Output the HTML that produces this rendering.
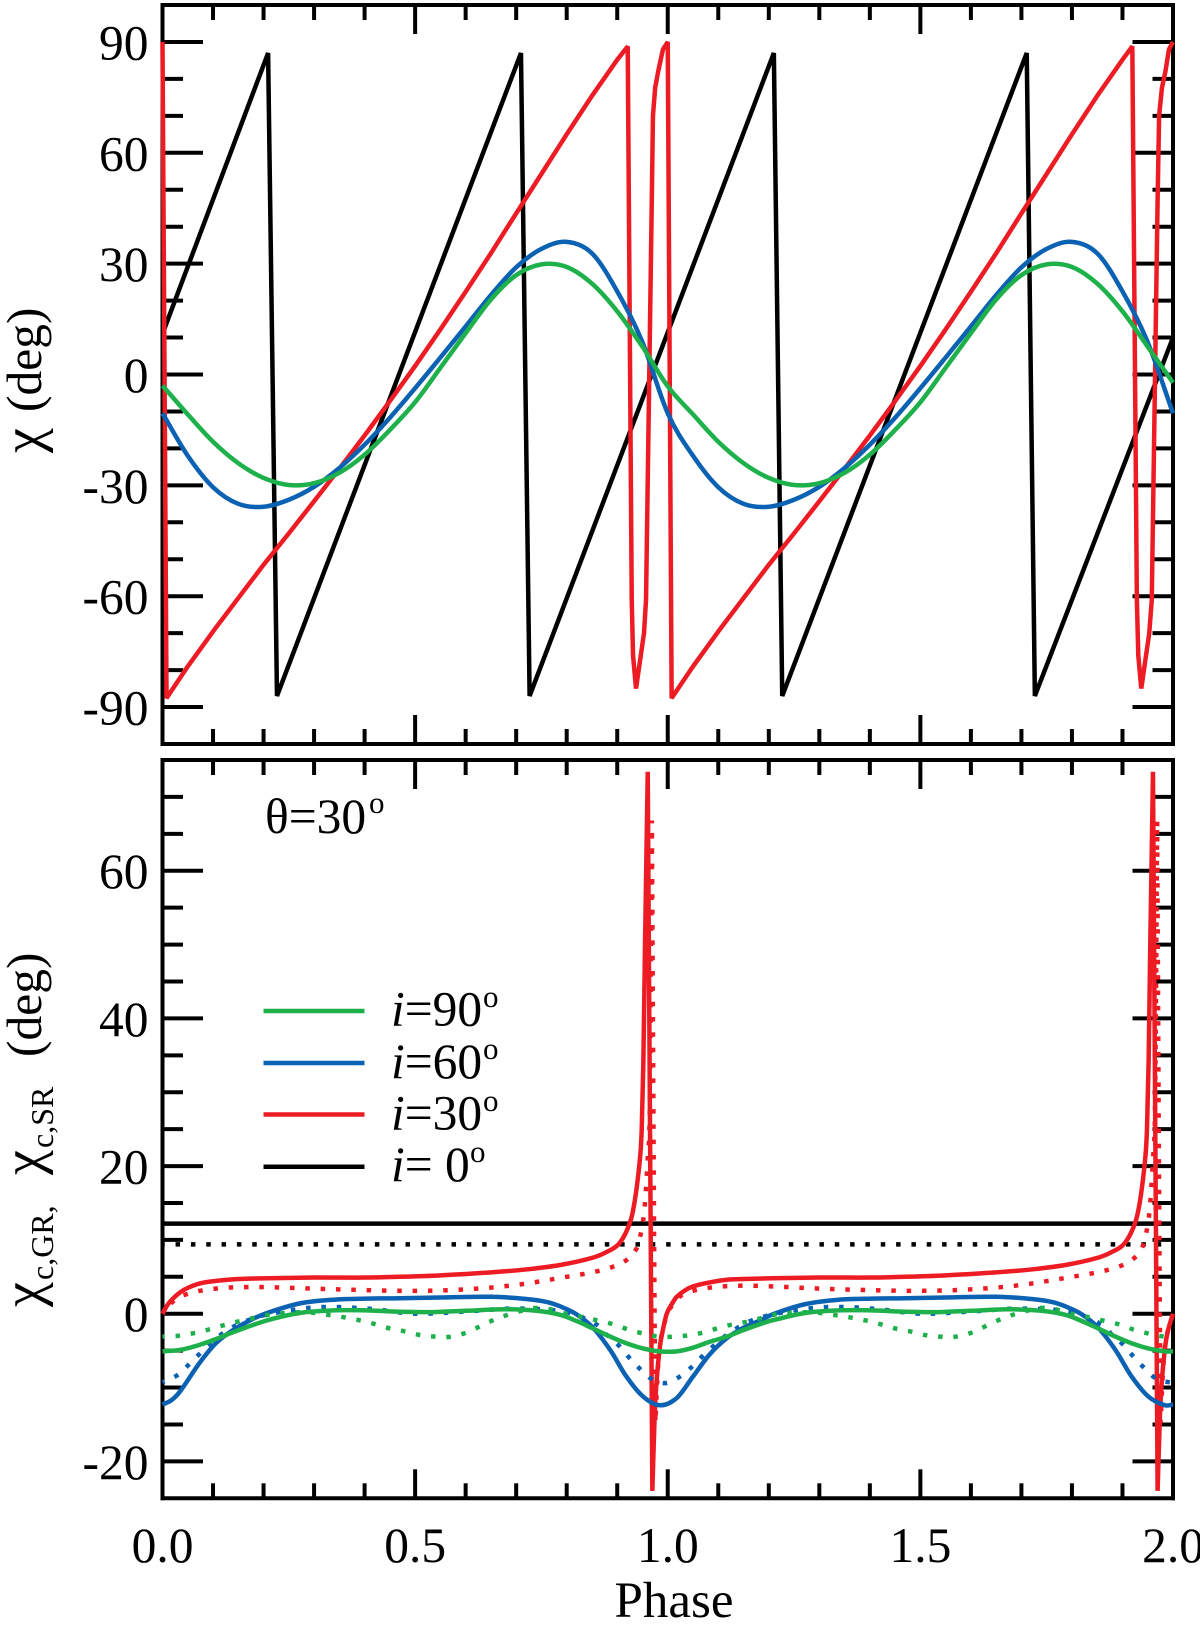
<!DOCTYPE html>
<html lang="en">
<head>
<meta charset="utf-8">
<title>Polarization angle versus phase</title>
<style>
html,body{margin:0;padding:0;background:#fff;}
svg{display:block;}
text{font-family:"Liberation Serif","DejaVu Serif",serif;fill:#000;}
</style>
</head>
<body>
<svg id="chart" xmlns="http://www.w3.org/2000/svg" width="1200" height="1630" viewBox="0 0 1200 1630">
  <g id="axes"></g>
  <g id="series"></g>
  <g id="labels" font-size="49.5"></g>

  <g transform="translate(41,0) rotate(-90)" font-size="49.5">
    <text x="-453" y="0" font-size="56">χ</text>
    <text x="-412" y="0">(deg)</text>
  </g>
  <g transform="translate(41,0) rotate(-90)">
    <text x="-1307" y="0" font-size="56">χ</text>
    <text x="-1280" y="12" font-size="32">c,GR,</text>
    <text x="-1175" y="0" font-size="56">χ</text>
    <text x="-1148" y="12" font-size="32">c,SR</text>
    <text x="-1057" y="0" font-size="49.5">(deg)</text>
  </g>
  <text x="674" y="1617" font-size="51" text-anchor="middle">Phase</text>

  <g font-size="49.5">
    <text x="265" y="833">θ=30</text>
    <text x="369" y="813" font-size="31">o</text>
  </g>

  <g font-size="49.5">
    <g>
      <line x1="263.5" x2="364.5" y1="1011" y2="1011" stroke="#1EB04B" stroke-width="4.5"></line>
      <text x="391" y="1025.7"><tspan font-style="italic">i</tspan>=90</text>
      <text x="483" y="1007" font-size="31">o</text>
    </g>
    <g>
      <line x1="263.5" x2="364.5" y1="1063" y2="1063" stroke="#0B62B3" stroke-width="4.5"></line>
      <text x="391" y="1078"><tspan font-style="italic">i</tspan>=60</text>
      <text x="483" y="1059" font-size="31">o</text>
    </g>
    <g>
      <line x1="263.5" x2="364.5" y1="1114.5" y2="1114.5" stroke="#ED1C24" stroke-width="4.5"></line>
      <text x="391" y="1129.5"><tspan font-style="italic">i</tspan>=30</text>
      <text x="483" y="1111" font-size="31">o</text>
    </g>
    <g>
      <line x1="263.5" x2="364.5" y1="1166.7" y2="1166.7" stroke="#000" stroke-width="4.5"></line>
      <text x="391" y="1181"><tspan font-style="italic">i</tspan>= 0</text>
      <text x="470" y="1162" font-size="31">o</text>
    </g>
  </g>
</svg>

<script>
/* ---------- tick labels ---------- */
const xTickLabels = ["0.0","0.5","1.0","1.5","2.0"];
const xMajorTicks = [0,0.5,1,1.5,2];
const xMinorTicks = [0.1,0.2,0.3,0.4,0.6,0.7,0.8,0.9,1.1,1.2,1.3,1.4,1.6,1.7,1.8,1.9];
const topYMajorTicks = [-90,-60,-30,0,30,60,90];
const topYMinorTicks = [-80,-70,-50,-40,-20,-10,10,20,40,50,70,80];
const bottomYMajorTicks = [-20,0,20,40,60];
const bottomYMinorTicks = [-15,-10,-5,5,10,15,25,30,35,45,50,55,65,70];

/* ---------- top panel: position angle (deg) ---------- */
const topBlackPhase = [0,0.209,0.2266,0.7095,0.7266,1.21,1.2266,1.7105,1.7266,2];
const topBlackChi = [11,87,-87,87,-87,87,-87,87,-87,10];

const topRedPhase = [0,0.008,0.05,0.103,0.15,0.2,0.25,0.3,0.35,0.4,0.45,0.5,0.55,0.6,0.65,0.7,0.75,0.8,0.85,0.9,0.9208,0.9287,0.9313,0.9372,0.953,0.957,0.9684,0.9707,0.975,0.981,0.9905,1,1.0077,1.05,1.103,1.15,1.2,1.25,1.3,1.35,1.4,1.45,1.5,1.55,1.6,1.65,1.7,1.75,1.8,1.85,1.9,1.9195,1.9285,1.9313,1.9372,1.953,1.958,1.9695,1.9725,1.978,1.985,1.992,2];
const topRedChi = [90,-87.6,-79,-69,-60.5,-51.5,-43,-34.3,-25.5,-16.5,-7.2,2.3,12.2,22.4,32.8,43.6,54.3,65,75.4,85.2,88.8,-61,-76,-85,-70,-61,47,70,77.5,82,88,90,-87.6,-79,-69,-60.5,-51.5,-43,-34.3,-25.5,-16.5,-7.2,2.3,12.2,22.4,32.8,43.6,54.3,65,75.4,85.2,88.8,-61,-76,-85,-70,-61,47,70,77.5,82,88,90];

const topGridPhase = [0,0.05,0.1,0.15,0.2,0.25,0.3,0.35,0.4,0.45,0.5,0.55,0.6,0.65,0.7,0.75,0.8,0.85,0.9,0.95,1,1.05,1.1,1.15,1.2,1.25,1.3,1.35,1.4,1.45,1.5,1.55,1.6,1.65,1.7,1.75,1.8,1.85,1.9,1.95,2];
const topBlueChi = [-10.5,-22,-30.5,-35,-35.8,-33.9,-30.4,-25.3,-19,-11.7,-3.7,4.6,13,21.5,29,34,35.9,32.8,22.5,8.7,-10.5,-22,-30.5,-35,-35.8,-33.9,-30.4,-25.3,-19,-11.7,-3.7,4.6,13,21.5,29,34,35.9,32.8,22.5,8.7,-10.5];
const topGreenChi = [-3,-10.8,-18.2,-24,-28,-29.9,-29.4,-26.6,-21.7,-15,-7.5,1.8,11.2,20.3,26.9,29.8,29.1,24.6,17.1,7.5,-3.2,-10.8,-18.2,-24,-28,-29.9,-29.4,-26.6,-21.7,-15,-7.5,1.8,11.2,20.3,26.9,29.8,29.1,24.6,17.1,7.5,-2.2];

/* ---------- bottom panel: correction angle (deg), solid = GR, dotted = SR ---------- */
const bottomBlackPhase = [0,2];
const bottomBlackSolid = [12.2,12.2];
const bottomBlackDotted = [9.4,9.4];

const redSolidBreaks = [0.9604,0.9695,1.9604,1.9695];
const redSolidPhase = [0,0.01,0.02,0.035,0.05,0.074,0.1,0.15,0.207,0.3,0.4,0.47,0.55,0.65,0.72,0.787,0.852,0.88,0.905,0.925,0.935,0.945,0.9485,0.9517,0.955,0.9604,0.9695,0.974,0.978,0.9846,0.99,0.998,1.008,1.018,1.035,1.05,1.08,1.117,1.15,1.207,1.3,1.4,1.47,1.55,1.65,1.72,1.787,1.852,1.88,1.905,1.925,1.935,1.945,1.9485,1.9517,1.955,1.9604,1.9695,1.974,1.978,1.9846,1.99,2];
const redSolidChi = [0,1.2,2,2.9,3.5,4.1,4.4,4.7,4.8,4.9,4.9,5,5.2,5.6,6,6.6,7.6,8.4,9.6,12.3,15.4,21,25,34,50,73.4,-24,-14,-9,-4.4,-2.3,0,1.3,2.3,3.2,3.7,4.2,4.6,4.7,4.8,4.9,4.9,5,5.2,5.6,6,6.6,7.6,8.4,9.6,12.3,15.4,21,25,34,50,73.4,-24,-14,-9,-4.4,-2.3,0];

const redDottedBreaks = [0.9686,0.9755,1.9686,1.9755];
const redDottedPhase = [0,0.01,0.02,0.035,0.05,0.074,0.12,0.16,0.207,0.3,0.4,0.5,0.6,0.7,0.8,0.85,0.889,0.917,0.938,0.9465,0.9517,0.955,0.957,0.9604,0.9637,0.965,0.9665,0.9686,0.973,0.9755,0.98,0.985,0.992,0.998,1.01,1.025,1.05,1.08,1.11,1.15,1.207,1.3,1.4,1.5,1.6,1.7,1.8,1.85,1.889,1.917,1.938,1.9465,1.9517,1.955,1.957,1.9604,1.9637,1.965,1.9665,1.9686,1.973,1.9755,1.98,1.985,1.992,2];
const redDottedChi = [0,0.9,1.6,2.3,2.7,3.1,3.5,3.6,3.6,3.4,3.2,3.1,3.3,3.9,5,5.6,6.3,7.2,8.8,10.8,12.8,15,17,21,25,32,45,66.8,10,-14.8,-8,-4,-1.8,0,1.2,2.4,3.1,3.5,3.7,3.8,3.7,3.4,3.2,3.1,3.3,3.9,5,5.6,6.3,7.2,8.8,10.8,12.8,15,17,21,25,32,45,66.8,10,-14.8,-8,-4,-1.8,0];

const blueSolidPhase = [0,0.018,0.035,0.074,0.107,0.14,0.173,0.207,0.272,0.338,0.404,0.47,0.55,0.65,0.72,0.76,0.787,0.82,0.852,0.886,0.918,0.951,0.984,1.018,1.05,1.083,1.117,1.15,1.183,1.207,1.272,1.338,1.404,1.47,1.55,1.65,1.72,1.76,1.787,1.82,1.852,1.886,1.918,1.951,1.984,2];
const blueSolidChi = [-12.3,-11.7,-10.5,-6.6,-3.9,-2.2,-0.9,0.1,1.4,1.9,2.05,2.1,2.2,2.3,2,1.6,1,-0.1,-1.9,-4.9,-8.5,-11.2,-12.4,-11.4,-8.5,-5.5,-3.3,-1.9,-0.9,-0.1,1.3,1.9,2.05,2.1,2.2,2.3,2,1.6,1,-0.1,-1.9,-4.9,-8.5,-11.2,-12.4,-12.3];

const blueDottedPhase = [0,0.03,0.052,0.074,0.095,0.118,0.145,0.173,0.207,0.29,0.351,0.42,0.5,0.6,0.7,0.8,0.86,0.88,0.903,0.923,0.944,0.967,0.995,1.022,1.046,1.068,1.09,1.114,1.138,1.163,1.207,1.29,1.351,1.42,1.5,1.6,1.7,1.8,1.86,1.88,1.903,1.923,1.944,1.967,2];
const blueDottedChi = [-9.3,-8.3,-6.9,-5.4,-4,-2.7,-1.6,-0.8,-0.1,0.8,0.9,0.6,0,0.3,0.7,0.2,-1.5,-2.9,-4.3,-5.9,-7.4,-8.8,-9.4,-8.6,-7.3,-5.8,-4.4,-3,-1.9,-1,-0.1,0.8,0.9,0.6,0,0.3,0.7,0.2,-1.5,-2.9,-4.3,-5.9,-7.4,-8.8,-9.4];

const greenSolidPhase = [0,0.035,0.074,0.107,0.14,0.207,0.272,0.338,0.404,0.47,0.536,0.6,0.68,0.74,0.787,0.82,0.852,0.886,0.918,0.951,0.984,1.018,1.05,1.083,1.117,1.15,1.183,1.207,1.272,1.338,1.404,1.47,1.536,1.6,1.68,1.74,1.787,1.82,1.852,1.886,1.918,1.951,1.984,2];
const greenSolidChi = [-5.1,-4.9,-4.2,-3.4,-2.5,-0.9,0.1,0.45,0.45,0.27,0.22,0.4,0.6,0.4,-0.15,-1,-2,-3.1,-4,-4.7,-5.1,-5.1,-4.6,-3.8,-3.1,-2.2,-1.4,-0.9,0.1,0.45,0.45,0.27,0.22,0.4,0.6,0.4,-0.15,-1,-2,-3.1,-4,-4.7,-5.1,-5.1];

const greenDottedPhase = [0,0.03,0.064,0.094,0.124,0.153,0.183,0.213,0.243,0.272,0.302,0.332,0.361,0.391,0.42,0.45,0.48,0.51,0.539,0.56,0.6,0.65,0.7,0.75,0.806,0.836,0.866,0.896,0.924,0.953,0.983,1.014,1.044,1.073,1.102,1.131,1.163,1.213,1.243,1.272,1.302,1.332,1.361,1.391,1.42,1.45,1.48,1.51,1.539,1.56,1.6,1.65,1.7,1.75,1.806,1.836,1.866,1.896,1.924,1.953,1.983,2];
const greenDottedChi = [-3.1,-3,-2.6,-2.1,-1.5,-1,-0.55,-0.1,0.1,0.2,0.1,-0.2,-0.5,-0.9,-1.4,-2,-2.4,-2.9,-3.1,-3.2,-2.6,-1,0.2,0.8,-0.15,-0.5,-1,-1.5,-2.2,-2.7,-3.1,-3.1,-2.9,-2.5,-1.9,-1.4,-1,-0.1,0.1,0.2,0.1,-0.2,-0.5,-0.9,-1.4,-2,-2.4,-2.9,-3.1,-3.2,-2.6,-1,0.2,0.8,-0.15,-0.5,-1,-1.5,-2.2,-2.7,-3.1,-3.1];

/* ---------- axis functions ---------- */
const NS = 'http://www.w3.org/2000/svg';
const AXIS_LEFT = 162.5, AXIS_RIGHT = 1173;
const TOP_PANEL = {top: 5, bottom: 744, min: -100, max: 100};
const BOTTOM_PANEL = {top: 760, bottom: 1498.3, min: -25, max: 75};
const COLORS = {black: '#000000', red: '#ED1C24', blue: '#0B62B3', green: '#1EB04B'};

function xScale(phase) {
  return AXIS_LEFT + (phase / 2) * (AXIS_RIGHT - AXIS_LEFT);
}
function yScale(panel, value) {
  return panel.bottom - (value - panel.min) / (panel.max - panel.min) * (panel.bottom - panel.top);
}
function svgEl(tag, parent) {
  const el = document.createElementNS(NS, tag);
  parent.appendChild(el);
  return el;
}
function tickLine(parent, x1, y1, x2, y2, name, width) {
  const el = svgEl('line', parent);
  el.setAttribute('x1', x1);
  el.setAttribute('y1', y1);
  el.setAttribute('x2', x2);
  el.setAttribute('y2', y2);
  el.setAttribute('stroke', '#000');
  el.setAttribute('stroke-width', width || 4);
  el.setAttribute('stroke-linecap', 'square');
  
  
  return el;
}

/* ---------- axes ---------- */
const axesGroup = document.getElementById('axes');
const labelsGroup = document.getElementById('labels');

function drawPanel(panel, panelName, yMajor, yMinor) {
  const g = svgEl('g', axesGroup);
  
  
  tickLine(g, AXIS_LEFT, panel.top, AXIS_RIGHT, panel.top, panelName + '-top-border');
  tickLine(g, AXIS_LEFT, panel.bottom, AXIS_RIGHT, panel.bottom, panelName + '-bottom-border');
  tickLine(g, AXIS_LEFT, panel.top, AXIS_LEFT, panel.bottom, panelName + '-left-border');
  tickLine(g, AXIS_RIGHT, panel.top, AXIS_RIGHT, panel.bottom, panelName + '-right-border');
  xMajorTicks.slice(1, -1).forEach(function (p) {
    const x = xScale(p);
    tickLine(g, x, panel.top, x, panel.top + 29, panelName + '-x-major-tick-top').setAttribute('stroke-linecap', 'butt');
    tickLine(g, x, panel.bottom, x, panel.bottom - 29, panelName + '-x-major-tick-bottom').setAttribute('stroke-linecap', 'butt');
  });
  xMinorTicks.forEach(function (p) {
    const x = xScale(p);
    tickLine(g, x, panel.top, x, panel.top + 15, panelName + '-x-minor-tick-top').setAttribute('stroke-linecap', 'butt');
    tickLine(g, x, panel.bottom, x, panel.bottom - 15, panelName + '-x-minor-tick-bottom').setAttribute('stroke-linecap', 'butt');
  });
  yMajor.forEach(function (v) {
    const y = yScale(panel, v);
    tickLine(g, AXIS_LEFT, y, AXIS_LEFT + 40.5, y, panelName + '-y-major-tick-left').setAttribute('stroke-linecap', 'butt');
    tickLine(g, AXIS_RIGHT, y, AXIS_RIGHT - 40.5, y, panelName + '-y-major-tick-right').setAttribute('stroke-linecap', 'butt');
    const t = svgEl('text', labelsGroup);
    t.setAttribute('x', 148.5);
    t.setAttribute('y', y + 17.5);
    t.setAttribute('text-anchor', 'end');
    
    
    t.textContent = String(v);
  });
  yMinor.forEach(function (v) {
    const y = yScale(panel, v);
    tickLine(g, AXIS_LEFT, y, AXIS_LEFT + 20.5, y, panelName + '-y-minor-tick-left').setAttribute('stroke-linecap', 'butt');
    tickLine(g, AXIS_RIGHT, y, AXIS_RIGHT - 20.5, y, panelName + '-y-minor-tick-right').setAttribute('stroke-linecap', 'butt');
  });
}
drawPanel(TOP_PANEL, 'top', topYMajorTicks, topYMinorTicks);
drawPanel(BOTTOM_PANEL, 'bottom', bottomYMajorTicks, bottomYMinorTicks);

xMajorTicks.forEach(function (p, i) {
  const t = svgEl('text', labelsGroup);
  t.setAttribute('x', xScale(p));
  t.setAttribute('y', 1562);
  t.setAttribute('text-anchor', 'middle');
  
  
  t.textContent = xTickLabels[i];
});

/* ---------- series ---------- */
const seriesGroup = document.getElementById('series');

function straightPath(panel, phases, values) {
  return phases.map(function (p, i) {
    return (i ? 'L' : 'M') + xScale(p).toFixed(2) + ' ' + yScale(panel, values[i]).toFixed(2);
  }).join(' ');
}
/* Smooth curve through the points; the curve restarts its slope at any phase listed in breaks,
   which keeps the sharp spike corners sharp. */
function smoothPath(panel, phases, values, breaks) {
  const xs = phases.map(xScale);
  const ys = values.map(function (v) { return yScale(panel, v); });
  const n = xs.length;
  const isBreak = phases.map(function (p) { return !!breaks && breaks.indexOf(p) >= 0; });
  function slopeAt(i, side) {
    let a = Math.max(i - 1, 0), b = Math.min(i + 1, n - 1);
    if (isBreak[i]) {
      if (side > 0) { a = i; } else { b = i; }
    }
    return (ys[b] - ys[a]) / (xs[b] - xs[a]);
  }
  let d = 'M' + xs[0].toFixed(2) + ' ' + ys[0].toFixed(2);
  for (let i = 0; i < n - 1; i++) {
    const h = (xs[i + 1] - xs[i]) / 3;
    const straight = isBreak[i] && isBreak[i + 1];
    const m0 = straight ? (ys[i + 1] - ys[i]) / (xs[i + 1] - xs[i]) : slopeAt(i, 1);
    const m1 = straight ? m0 : slopeAt(i + 1, -1);
    d += ' C' + (xs[i] + h).toFixed(2) + ' ' + (ys[i] + m0 * h).toFixed(2) +
         ' ' + (xs[i + 1] - h).toFixed(2) + ' ' + (ys[i + 1] - m1 * h).toFixed(2) +
         ' ' + xs[i + 1].toFixed(2) + ' ' + ys[i + 1].toFixed(2);
  }
  return d;
}
function drawSeries(d, color, dotted, name) {
  const path = svgEl('path', seriesGroup);
  path.setAttribute('d', d);
  path.setAttribute('fill', 'none');
  path.setAttribute('stroke', color);
  path.setAttribute('stroke-width', 4.5);
  path.setAttribute('stroke-linejoin', 'miter');
  path.setAttribute('stroke-miterlimit', 3);
  if (dotted) {
    path.setAttribute('stroke-dasharray', '4.5 10.83');
    path.setAttribute('stroke-dashoffset', '2.25');
  }
  
  
}

drawSeries(straightPath(TOP_PANEL, topBlackPhase, topBlackChi), COLORS.black, false, 'top-line-i0');
drawSeries(straightPath(TOP_PANEL, topRedPhase, topRedChi), COLORS.red, false, 'top-line-i30');
drawSeries(smoothPath(TOP_PANEL, topGridPhase, topBlueChi), COLORS.blue, false, 'top-line-i60');
drawSeries(smoothPath(TOP_PANEL, topGridPhase, topGreenChi), COLORS.green, false, 'top-line-i90');

drawSeries(straightPath(BOTTOM_PANEL, bottomBlackPhase, bottomBlackDotted), COLORS.black, true, 'bottom-dotted-i0');
drawSeries(straightPath(BOTTOM_PANEL, bottomBlackPhase, bottomBlackSolid), COLORS.black, false, 'bottom-solid-i0');
drawSeries(smoothPath(BOTTOM_PANEL, redDottedPhase, redDottedChi, redDottedBreaks), COLORS.red, true, 'bottom-dotted-i30');
drawSeries(smoothPath(BOTTOM_PANEL, redSolidPhase, redSolidChi, redSolidBreaks), COLORS.red, false, 'bottom-solid-i30');
drawSeries(smoothPath(BOTTOM_PANEL, blueDottedPhase, blueDottedChi), COLORS.blue, true, 'bottom-dotted-i60');
drawSeries(smoothPath(BOTTOM_PANEL, blueSolidPhase, blueSolidChi), COLORS.blue, false, 'bottom-solid-i60');
drawSeries(smoothPath(BOTTOM_PANEL, greenDottedPhase, greenDottedChi), COLORS.green, true, 'bottom-dotted-i90');
drawSeries(smoothPath(BOTTOM_PANEL, greenSolidPhase, greenSolidChi), COLORS.green, false, 'bottom-solid-i90');
</script>
</body>
</html>
